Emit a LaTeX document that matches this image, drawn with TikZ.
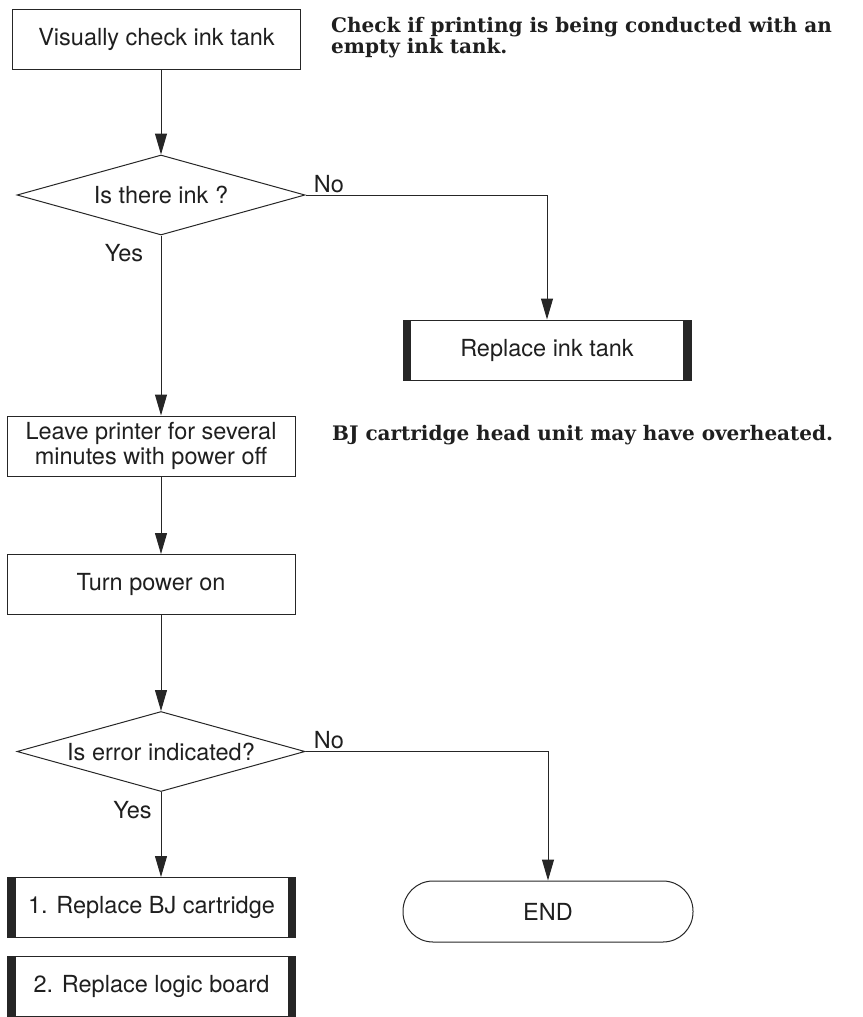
\documentclass[tikz,border=0pt]{standalone}
\usepackage{fontspec}
\setsansfont{TeX Gyre Heros}
\setmainfont{DejaVu Serif}
\usetikzlibrary{shapes.geometric,arrows.meta}

\begin{document}
\begin{tikzpicture}[x=1pt,y=-1pt]
\tikzstyle{every node}+=[inner sep=0pt, text=black!88, font=\sffamily\fontsize{23.5}{25}\selectfont]
\tikzstyle{proc}=[draw=black!85, line width=1pt, minimum width=288pt, minimum height=60pt, align=center]
\tikzstyle{act}=[proc, path picture={
  \fill[black!85] (path picture bounding box.north west) rectangle ([xshift=8pt]path picture bounding box.south west);
  \fill[black!85] (path picture bounding box.north east) rectangle ([xshift=-8pt]path picture bounding box.south east);}]
\tikzstyle{decision}=[draw=black!85, line width=1pt, diamond, aspect=3.6, minimum width=288pt, minimum height=80pt]
\tikzstyle{term}=[draw=black!85, line width=1pt, rounded corners=30pt, minimum width=290pt, minimum height=61pt]
\tikzstyle{note}=[font=\rmfamily\bfseries\fontsize{20}{17.5}\selectfont, align=left]
\tikzstyle{arr}=[draw=black!85, line width=1pt, -{Triangle[length=21pt,width=12pt]}]
\useasboundingbox (0,0) rectangle (862,1017);
% main column
\node[proc] (check) at (156.5,39.5) {Visually check ink tank};
\node[decision, label={[name=d1t]center:Is there ink ?}] (d1) at (161,195) {};
\node[act] (ink) at (547,350) {Replace ink tank};
\node[proc] (leave) at (151,446) {Leave printer for several\\minutes with power off};
\node[proc] (turn) at (151,584.5) {Turn power on};
\node[decision, label={[name=d2t]center:Is error indicated?}] (d2) at (161,751.5) {};
\node[act] (bj) at (151.5,907.5) {1. Replace BJ cartridge};
\node[act] (logic) at (151.5,986) {2. Replace logic board};
\node[term] (endt) at (548,911.5) {END};
% branch labels
\node (no1) at (329,184) {No};
\node (yes1) at (124,253.5) {Yes};
\node (no2) at (329,740) {No};
\node (yes2) at (132.5,810) {Yes};
% notes
\node[note, anchor=north west] (note1) at (331,17) {Check if printing is being conducted with an\\empty ink tank.};
\node[note, anchor=base west] (note2) at (332,440) {BJ cartridge head unit may have overheated.};
% connectors
\draw[arr] (check.south -| d1) -- (d1.north);
\draw[arr] (d1.east) -| (ink.north);
\draw[arr] (d1.south) -- (d1.south |- leave.north);
\draw[arr] (leave.south -| d1) -- (turn.north -| d1);
\draw[arr] (turn.south -| d2) -- (d2.north);
\draw[arr] (d2.east) -| (endt.north);
\draw[arr] (d2.south) -- (d2.south |- bj.north);
\end{tikzpicture}
\end{document}
